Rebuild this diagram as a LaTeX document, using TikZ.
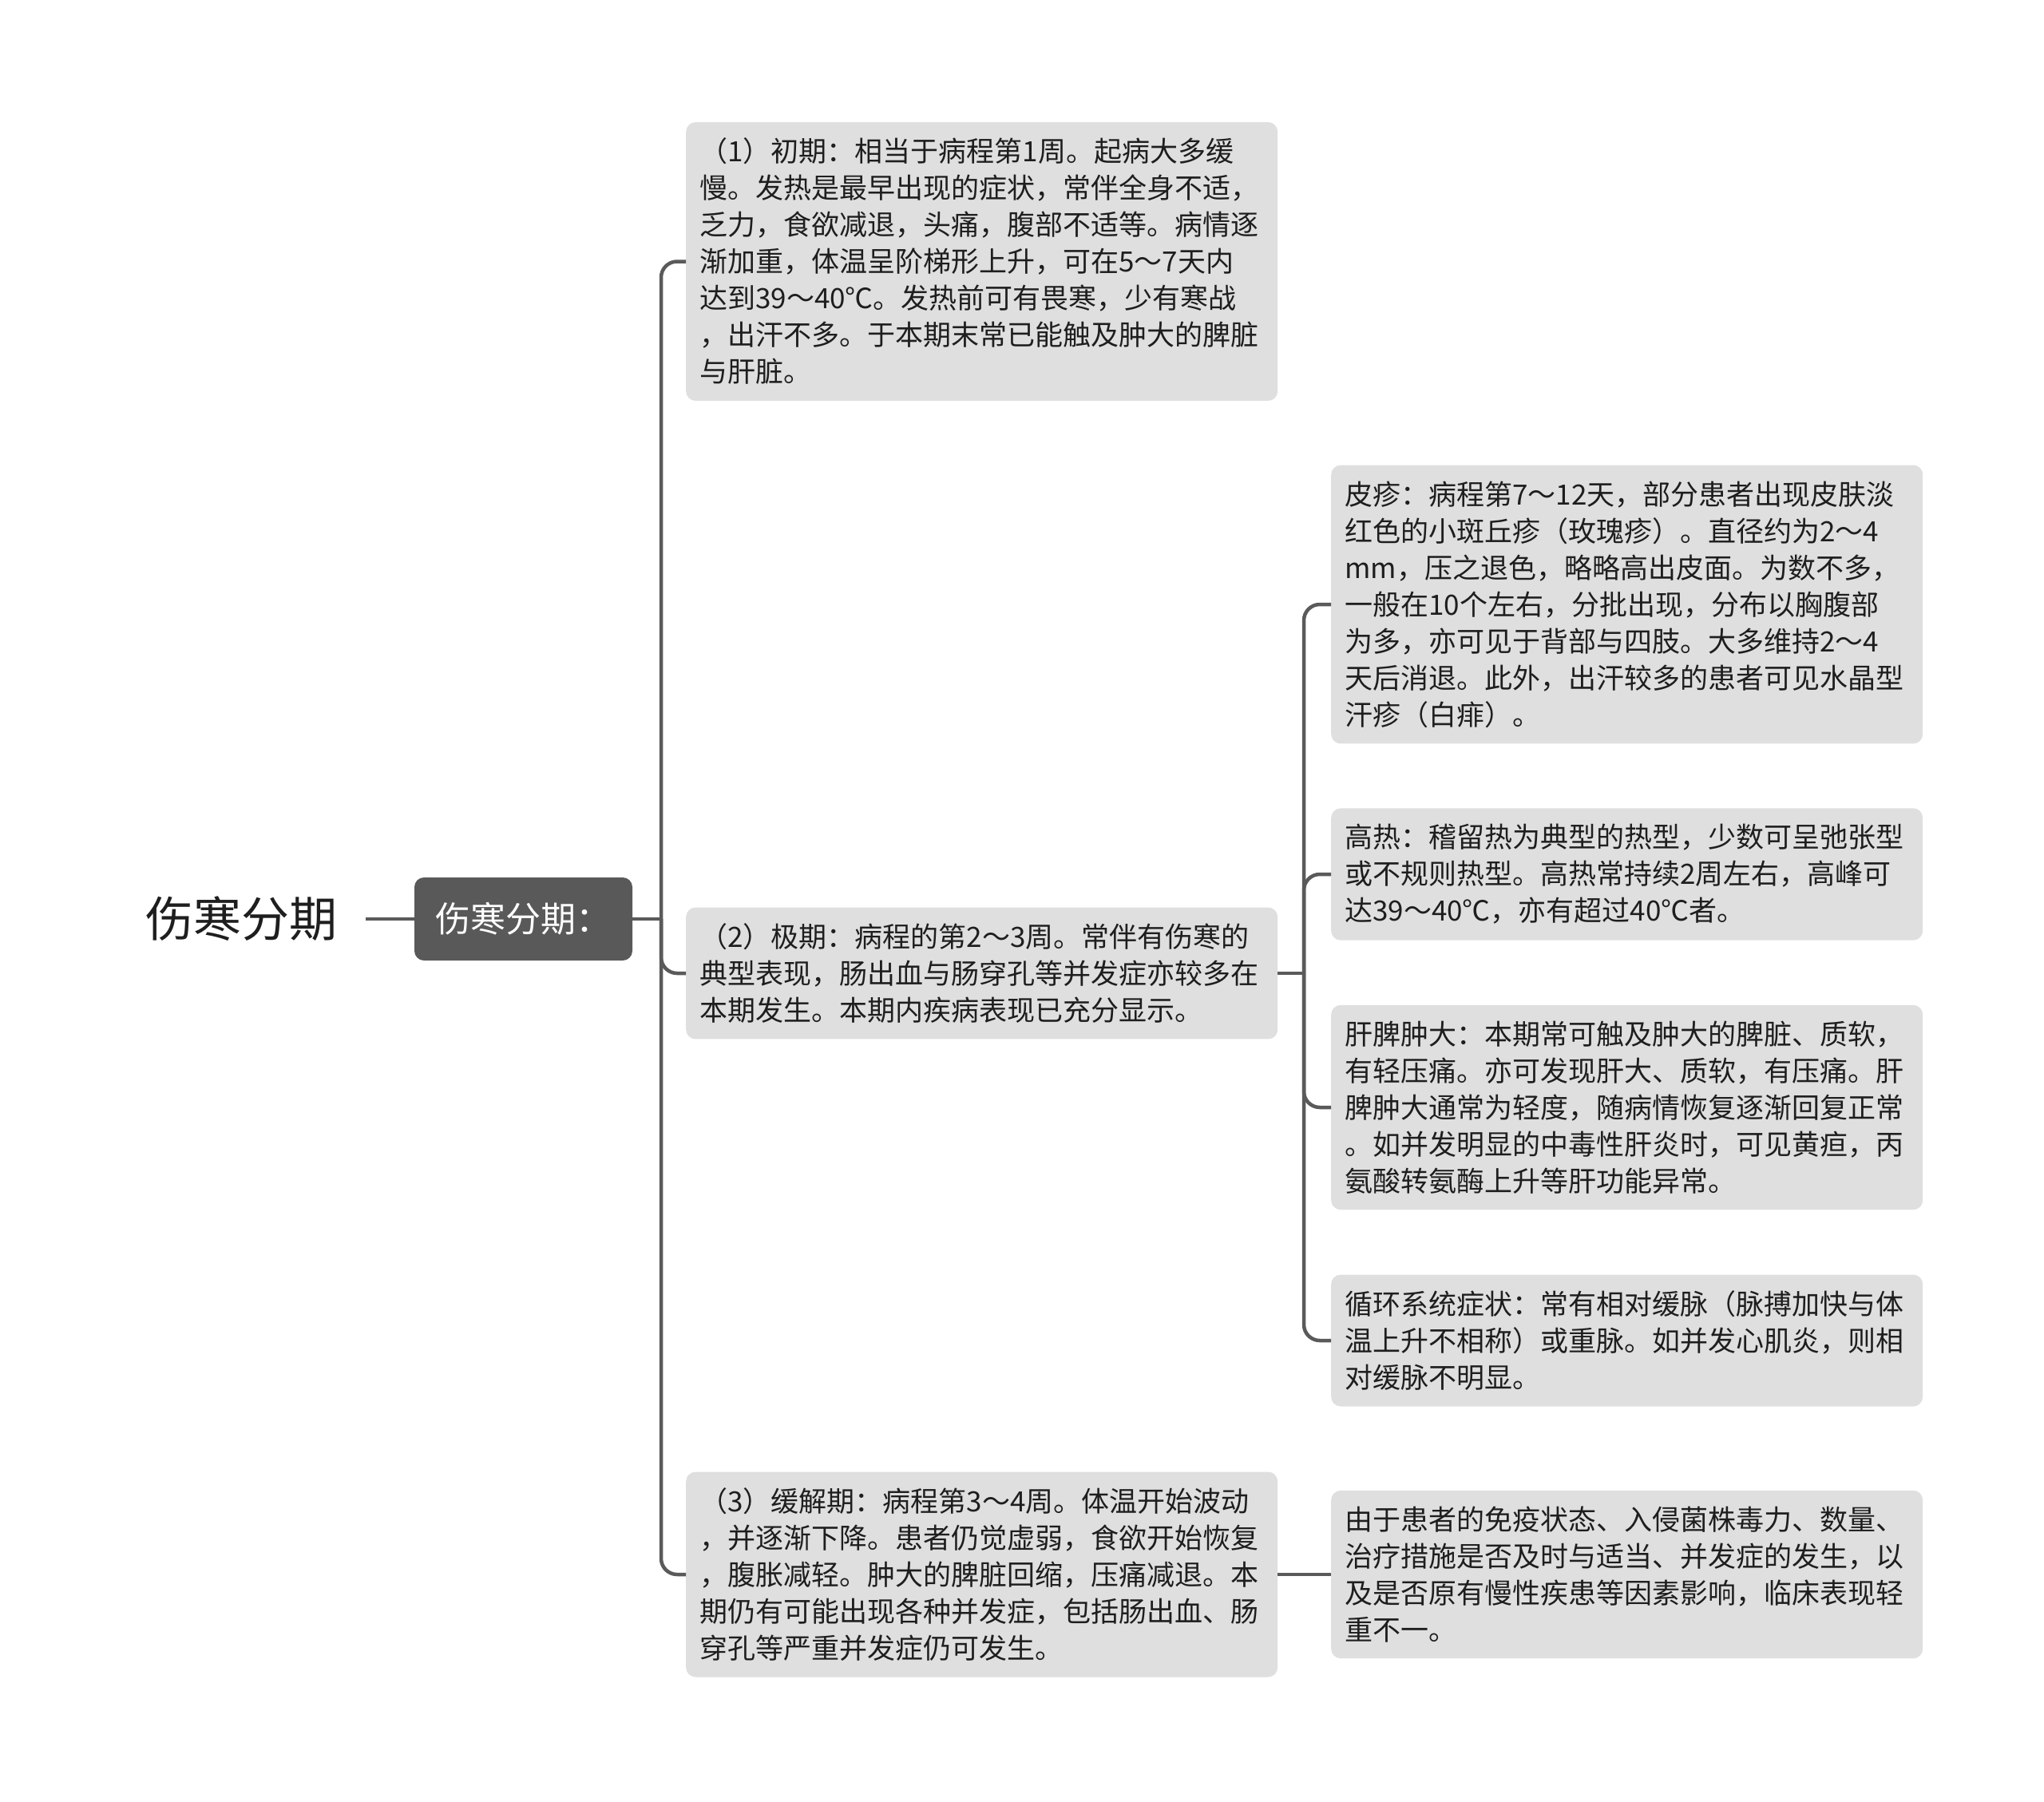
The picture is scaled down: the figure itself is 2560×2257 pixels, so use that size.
\documentclass[tikz,border=0pt]{standalone}
\usepackage{fontspec}
\setmainfont{Noto Sans CJK SC}
\definecolor{boxgray}{HTML}{DFDFDF}
\definecolor{hubgray}{HTML}{595959}
\definecolor{linegray}{HTML}{5A5A5A}
\definecolor{textdark}{HTML}{1E1E1E}

\begin{document}
\begin{tikzpicture}[ x=1pt, y=-1pt,
    topic/.style = { fill=boxgray, rounded corners=12pt, anchor=west,
      text width=707pt, align=left, inner xsep=17pt, inner ysep=20pt,
      text=textdark, font=\fontsize{35}{46}\selectfont },
    link/.style = { draw=linegray, line width=4.5pt, rounded corners=20pt } ]
  \useasboundingbox (0,0) rectangle (2560,2257);

  \node (root) [ text=textdark, inner xsep=36pt, font=\fontsize{60}{70}\selectfont ]
    at (302,1151) { 伤寒分期 };
  \node (hub) [ fill=hubgray, text=white, rounded corners=12pt,
    minimum width=273pt, minimum height=104pt, font=\fontsize{44}{52}\selectfont ]
    at (655.5,1151) { 伤寒分期： };

  \node (early) [ topic ] at (859,327.5) {
    （1）初期：相当于病程第1周。起病大多缓\\
    慢。发热是最早出现的症状，常伴全身不适，\\
    乏力，食欲减退，头痛，腹部不适等。病情逐\\
    渐加重，体温呈阶梯形上升，可在5～7天内\\
    达到39～40℃。发热前可有畏寒，少有寒战\\
    ，出汗不多。于本期末常已能触及肿大的脾脏\\
    与肝脏。 };
  \node (peak) [ topic ] at (859,1219) {
    （2）极期：病程的第2～3周。常伴有伤寒的\\
    典型表现，肠出血与肠穿孔等并发症亦较多在\\
    本期发生。本期内疾病表现已充分显示。 };
  \node (late) [ topic ] at (859,1972) {
    （3）缓解期：病程第3～4周。体温开始波动\\
    ，并逐渐下降。患者仍觉虚弱，食欲开始恢复\\
    ，腹胀减轻。肿大的脾脏回缩，压痛减退。本\\
    期仍有可能出现各种并发症，包括肠出血、肠\\
    穿孔等严重并发症仍可发生。 };

  \node (rash) [ topic ] at (1667,757) {
    皮疹：病程第7～12天，部分患者出现皮肤淡\\
    红色的小斑丘疹（玫瑰疹）。直径约为2～4\\
    mm，压之退色，略略高出皮面。为数不多，\\
    一般在10个左右，分批出现，分布以胸腹部\\
    为多，亦可见于背部与四肢。大多维持2～4\\
    天后消退。此外，出汗较多的患者可见水晶型\\
    汗疹（白痱）。 };
  \node (fever) [ topic ] at (1667,1095) {
    高热：稽留热为典型的热型，少数可呈弛张型\\
    或不规则热型。高热常持续2周左右，高峰可\\
    达39～40℃，亦有超过40℃者。 };
  \node (organ) [ topic ] at (1667,1387) {
    肝脾肿大：本期常可触及肿大的脾脏、质软，\\
    有轻压痛。亦可发现肝大、质软，有压痛。肝\\
    脾肿大通常为轻度，随病情恢复逐渐回复正常\\
    。如并发明显的中毒性肝炎时，可见黄疸，丙\\
    氨酸转氨酶上升等肝功能异常。 };
  \node (pulse) [ topic ] at (1667,1679) {
    循环系统症状：常有相对缓脉（脉搏加快与体\\
    温上升不相称）或重脉。如并发心肌炎，则相\\
    对缓脉不明显。 };
  \node (course) [ topic ] at (1667,1972) {
    由于患者的免疫状态、入侵菌株毒力、数量、\\
    治疗措施是否及时与适当、并发症的发生，以\\
    及是否原有慢性疾患等因素影响，临床表现轻\\
    重不一。 };

  % trunk of the stages
  \coordinate (j1) at (828,1151);
  \draw [ link ] (root) -- (hub);
  \draw [ link ] (hub.east) -- (j1);
  \draw [ link ] (j1) |- (early.west);
  \draw [ link ] (j1) |- (peak.west);
  \draw [ link ] (j1) |- (late.west);

  % signs of the peak stage
  \coordinate (j2) at (1633,1219);
  \draw [ link ] (peak.east) -- (j2);
  \draw [ link ] (j2) |- (rash.west);
  \draw [ link ] (j2) |- (fever.west);
  \draw [ link ] (j2) |- (organ.west);
  \draw [ link ] (j2) |- (pulse.west);
  \draw [ link ] (late.east) -- (course.west);
\end{tikzpicture}
\end{document}
